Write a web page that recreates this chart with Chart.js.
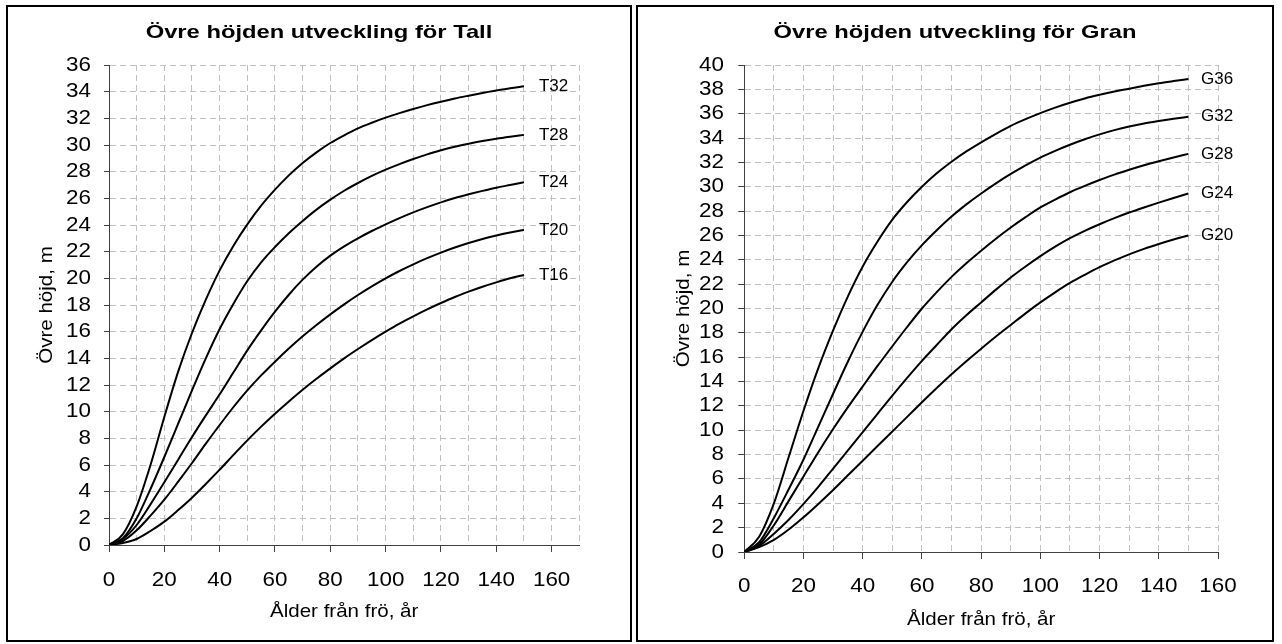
<!DOCTYPE html>
<html><head><meta charset="utf-8">
<script src="https://cdn.jsdelivr.net/npm/chart.js@4"></script>
<style>
html,body{margin:0;padding:0;background:#fff;width:1282px;height:644px;overflow:hidden;}
canvas{position:absolute;top:0;}
.frame{position:absolute;border:2px solid #000;box-sizing:border-box;pointer-events:none;}
</style></head><body>
<canvas id="c1" width="624" height="644" style="left:7px;width:624px;height:644px"></canvas>
<canvas id="c2" width="636" height="644" style="left:637px;width:636px;height:644px"></canvas>
<div class="frame" style="left:6px;top:5px;width:626px;height:637px"></div>
<div class="frame" style="left:636px;top:5px;width:638px;height:637px"></div>
<script>
// ---- data ----
const ages = [0,5,10,15,20,25,30,35,40,45,50,55,60,65,70,75,80,85,90,95,100,105,110,115,120,125,130,135,140,145,150];

const tallNames = ['T32','T28','T24','T20','T16'];
const tallT32 = [0,0.8,2.9,6.0,9.6,13.0,15.9,18.4,20.6,22.45,24.05,25.45,26.65,27.72,28.65,29.45,30.15,30.73,31.25,31.67,32.05,32.39,32.7,32.99,33.25,33.49,33.7,33.9,34.08,34.25,34.4];
const tallT28 = [0,0.5,2.0,4.2,6.6,9.1,11.6,14.0,16.2,18.1,19.8,21.2,22.35,23.38,24.3,25.15,25.9,26.57,27.15,27.68,28.15,28.57,28.95,29.3,29.6,29.87,30.1,30.3,30.47,30.62,30.76];
const tallT24 = [0,0.45,1.5,3.05,4.7,6.4,8.1,9.72,11.3,12.95,14.6,16.1,17.5,18.77,19.9,20.87,21.7,22.4,23.0,23.55,24.05,24.52,24.95,25.34,25.7,26.02,26.3,26.56,26.8,27.0,27.2];
const tallT20 = [0,0.3,1.1,2.2,3.4,4.75,6.15,7.6,9.0,10.35,11.6,12.72,13.75,14.73,15.65,16.5,17.3,18.05,18.75,19.4,20.0,20.55,21.05,21.51,21.93,22.31,22.65,22.95,23.21,23.44,23.63];
const tallT16 = [0,0.15,0.45,1.05,1.75,2.62,3.55,4.58,5.65,6.76,7.85,8.88,9.85,10.77,11.65,12.47,13.25,14.0,14.7,15.37,16.0,16.6,17.15,17.67,18.15,18.6,19.0,19.37,19.7,20.0,20.25];

const granNames = ['G36','G32','G28','G24','G20'];
const granG36 = [0,1.25,4.0,7.8,11.6,15.1,18.2,21.0,23.45,25.5,27.3,28.75,30.0,31.1,32.05,32.9,33.65,34.35,35.0,35.55,36.05,36.5,36.9,37.25,37.55,37.82,38.05,38.29,38.5,38.68,38.85];
const granG32 = [0,0.8,2.8,5.15,7.6,10.3,13.0,15.65,18.1,20.3,22.2,23.8,25.2,26.43,27.55,28.55,29.45,30.28,31.05,31.76,32.4,32.95,33.45,33.9,34.3,34.65,34.95,35.2,35.4,35.58,35.75];
const granG28 = [0,0.6,2.2,4.2,6.2,8.2,10.1,11.9,13.6,15.28,16.9,18.48,20.0,21.35,22.6,23.72,24.75,25.73,26.65,27.5,28.3,28.95,29.55,30.07,30.55,31.0,31.4,31.77,32.1,32.41,32.7];
const granG24 = [0,0.5,1.5,2.65,3.95,5.35,6.85,8.35,9.85,11.35,12.85,14.3,15.7,17.0,18.3,19.45,20.5,21.55,22.55,23.45,24.3,25.08,25.78,26.38,26.92,27.42,27.88,28.3,28.7,29.08,29.45];
const granG20 = [0,0.4,1.0,1.85,2.85,3.95,5.1,6.3,7.5,8.7,9.9,11.1,12.3,13.47,14.6,15.67,16.7,17.7,18.65,19.6,20.5,21.33,22.1,22.77,23.4,23.95,24.45,24.9,25.3,25.67,26.0];

const xTickLabels = ['0','20','40','60','80','100','120','140','160'];
const titleTall = 'Övre höjden utveckling för Tall';
const titleGran = 'Övre höjden utveckling för Gran';
const xTitle = 'Ålder från frö, år';
const yTitle = 'Övre höjd, m';

// ---- styling ----
const FONT = '"Liberation Sans", Arial, sans-serif';
Chart.defaults.font.family = FONT;
Chart.defaults.color = '#000';
const GRID = '#c0c0c0';
const AXIS = '#404040';
const TICK = 20, TITLE = 19, AXT = 19, LAB = 17;
// horizontal widening of the glyphs, as in the (widened) original picture
const STRETCH = {title: 1.25, tick: 1.12, axis: 1.08};

function widenText(canvas) {
  const ctx = canvas.getContext('2d');
  const orig = ctx.fillText;
  ctx.fillText = function(text, x, y, maxWidth) {
    const f = this.font;
    const m = /(\d+(?:\.\d+)?)px/.exec(f);
    const size = m ? parseFloat(m[1]) : 0;
    let s = 1;
    if (/bold|700/.test(f)) s = STRETCH.title;
    else if (size === TICK) s = STRETCH.tick;
    else if (size === AXT) s = STRETCH.axis;
    if (s === 1) return orig.call(this, text, x, y);
    this.save();
    this.translate(x, y);
    this.scale(s, 1);
    orig.call(this, text, 0, 0);
    this.restore();
  };
}

const endLabels = {
  id: 'endLabels',
  afterDatasetsDraw(chart, args, opts) {
    const ctx = chart.ctx;
    ctx.save();
    ctx.font = LAB + 'px ' + FONT;
    ctx.fillStyle = '#000';
    ctx.textBaseline = 'middle';
    ctx.textAlign = 'left';
    chart.data.datasets.forEach((ds, i) => {
      const meta = chart.getDatasetMeta(i);
      const pt = meta.data[meta.data.length - 1];
      ctx.fillText(ds.label, pt.x + opts.offset, pt.y);
    });
    ctx.restore();
  }
};
const centerTitle = {
  id: 'centerTitle',
  afterLayout(chart) {
    const t = chart.titleBlock;
    if (t) { t.left = 0; t.right = chart.width; t.width = chart.width; }
  }
};

function build(id, cfg) {
  const lh = 1.2;
  const canvas = document.getElementById(id);
  widenText(canvas);
  const datasets = cfg.names.map((n, k) => ({
    label: n,
    data: ages.map((a, i) => ({x: a, y: cfg.series[k][i]})),
    borderColor: '#000', borderWidth: 2, pointRadius: 0, fill: false,
    cubicInterpolationMode: 'monotone'
  }));
  const titleLH = TITLE * lh;
  const titlePadTop = cfg.titleCenter - cfg.padTop - titleLH / 2;
  const titlePadBottom = cfg.top - cfg.padTop - titleLH - titlePadTop;
  const axLH = AXT * lh, tkLH = TICK * lh;
  const xAxisBottom = cfg.height - cfg.padBottom;
  return new Chart(canvas, {
    type: 'line',
    data: {datasets},
    options: {
      responsive: false, animation: false, devicePixelRatio: 1,
      layout: {padding: {left: cfg.padLeft, right: cfg.padRight, top: cfg.padTop, bottom: cfg.padBottom}},
      plugins: {
        legend: {display: false}, tooltip: {enabled: false},
        title: {display: true, text: cfg.title, color: '#000',
          font: {size: TITLE, weight: 'bold', family: FONT, lineHeight: lh},
          padding: {top: titlePadTop, bottom: titlePadBottom}},
        endLabels: {offset: cfg.labelOffset}
      },
      scales: {
        x: {
          type: 'linear', min: 0, max: cfg.xMax,
          afterFit: s => { s.height = cfg.xAxisH; },
          ticks: {stepSize: 10, autoSkip: false, maxRotation: 0, minRotation: 0,
            padding: cfg.xLabelCenter - cfg.bottom - 7 - tkLH / 2,
            font: {size: TICK, lineHeight: lh},
            callback: v => xTickLabels.includes(String(v)) ? String(v) : ''},
          grid: {color: GRID, lineWidth: 1, tickLength: 7, tickWidth: 1,
            tickBorderDash: [],
            tickColor: c => (c.tick && xTickLabels.includes(String(c.tick.value))) ? AXIS : 'rgba(0,0,0,0)'},
          border: {display: true, color: AXIS, width: 1, dash: [6, 4]},
          title: {display: true, text: xTitle, color: '#000',
            font: {size: AXT, lineHeight: lh},
            padding: {top: 0, bottom: xAxisBottom - cfg.xTitleCenter - axLH / 2}}
        },
        y: {
          type: 'linear', min: 0, max: cfg.yMax,
          afterFit: s => { s.width = cfg.yAxisW; },
          ticks: {stepSize: 2, autoSkip: false, padding: cfg.yLabelPad,
            font: {size: TICK, lineHeight: lh}},
          grid: {color: GRID, lineWidth: 1, tickLength: cfg.yTick, tickWidth: 1,
            tickBorderDash: [], tickColor: AXIS},
          border: {display: true, color: AXIS, width: 1, dash: [6, 4]},
          title: {display: true, text: yTitle, color: '#000',
            font: {size: AXT, lineHeight: lh},
            padding: {top: cfg.yTitleCenter - cfg.padLeft - axLH / 2, bottom: 0}}
        }
      }
    },
    plugins: [endLabels, centerTitle]
  });
}

// left chart (canvas left = 7)
build('c1', {
  names: tallNames, series: [tallT32, tallT28, tallT24, tallT20, tallT16],
  title: titleTall, xMax: 170, yMax: 36, height: 644,
  padLeft: 20, padRight: 51.7, padTop: 10, padBottom: 14,
  yAxisW: 82, xAxisH: 85, top: 65, bottom: 545,
  titleCenter: 33, xLabelCenter: 580, xTitleCenter: 612,
  yTitleCenter: 40, yTick: 5, yLabelPad: 13, labelOffset: 15
});
// right chart (canvas left = 637)
build('c2', {
  names: granNames, series: [granG36, granG32, granG28, granG24, granG20],
  title: titleGran, xMax: 160, yMax: 40, height: 644,
  padLeft: 20, padRight: 55, padTop: 10, padBottom: 8,
  yAxisW: 87.3, xAxisH: 84, top: 65, bottom: 552,
  titleCenter: 33, xLabelCenter: 586, xTitleCenter: 620,
  yTitleCenter: 47, yTick: 6, yLabelPad: 14.3, labelOffset: 12.7
});
</script>
</body></html>
